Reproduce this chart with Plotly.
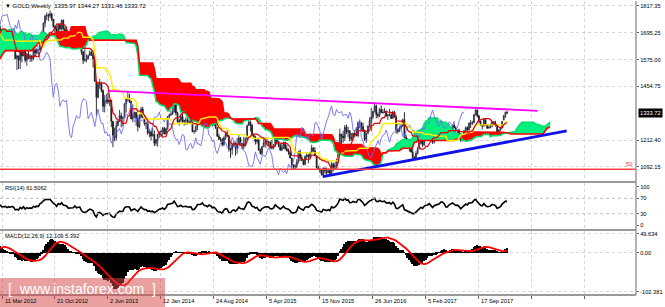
import numpy as np
import pandas as pd
import plotly.graph_objects as go

# ---------------- data: GOLD weekly bars (week start dates end at LAST_BAR) -------------
LAST_BAR = "2018-01-14"

opens = [
    # 2010 (from 5 Sep)
    1248,1246,1275,1297,1318,1346,1370,1327,1358,1394,1367,1352,1363,1406,1385,1377,1380,
    # 2011
    1421,1369,1361,1342,1340,1348,1360,1388,1410,1429,1421,1418,1427,1430,1474,1486,1505,1556,1491,1492,1510,1536,
    1542,1529,1539,1501,1486,1542,1601,1601,1625,1663,1743,1852,1829,1877,1856,1813,1658,1623,1635,1680,1642,1745,
    1753,1788,1725,1687,1746,1710,1598,1606,
    # 2012
    1565,1616,1640,1664,1727,1725,1724,1723,1776,1711,1698,1658,1662,1668,1640,1659,1642,1663,1645,1580,1591,1572,
    1622,1591,1626,1572,1598,1580,1590,1580,1618,1604,1620,1617,1670,1692,1739,1770,1774,1772,1780,1756,1724,1712,
    1677,1730,1714,1752,1712,1705,1696,1657,1657,
    # 2013
    1657,1662,1687,1659,1666,1667,1609,1572,1572,1577,1592,1607,1596,1579,1477,1405,1463,1468,1435,1364,1386,1393,
    1384,1391,1297,1234,1223,1277,1296,1322,1310,1313,1376,1396,1396,1386,1308,1325,1337,1310,1272,1315,1352,1314,
    1287,1287,1244,1250,1231,1238,1198,1213,
    # 2014
    1237,1248,1252,1265,1240,1262,1318,1324,1328,1339,1380,1334,1294,1302,1318,1294,1301,1302,1290,1294,1292,1250,
    1253,1274,1316,1316,1320,1339,1310,1307,1294,1311,1305,1280,1287,1268,1229,1216,1214,1192,1222,1238,1231,1171,
    1168,1190,1197,1175,1191,1222,1195,1195,
    # 2015
    1186,1216,1277,1293,1279,1234,1227,1205,1212,1167,1152,1182,1199,1206,1205,1203,1178,1177,1188,1225,1205,1190,
    1168,1180,1201,1173,1163,1157,1131,1098,1095,1094,1113,1159,1134,1121,1103,1138,1145,1137,1156,1177,1163,1141,
    1088,1081,1076,1056,1086,1075,1065,1076,
    # 2016
    1061,1104,1090,1097,1117,1158,1239,1230,1222,1270,1249,1254,1217,1221,1243,1235,1232,1290,1290,1272,1252,1214,
    1243,1275,1298,1316,1341,1366,1327,1322,1350,1336,1336,1341,1321,1327,1327,1310,1338,1316,1257,1251,1267,1276,
    1304,1225,1209,1178,1178,1159,1134,1133,
    # 2017
    1152,1173,1197,1209,1190,1221,1234,1238,1257,1226,1203,1229,1243,1249,1254,1285,1284,1268,1228,1228,1254,1267,
    1280,1267,1254,1256,1242,1212,1228,1254,1268,1258,1288,1286,1291,1325,1347,1320,1297,1280,1275,1304,1280,1266,
    1269,1275,1294,1288,1281,1248,1257,1267,1303,
    # 2018
    1322,1335.97,
]

highs = [
    1259,1283,1300,1321,1349,1387,1372,1362,1398,1424,1372,1379,1417,1432,1407,1392,1424,
    1424,1389,1374,1346,1357,1371,1390,1415,1440,1445,1436,1448,1439,1476,1487,1510,1577,1576,1523,1512,1541,1546,
    1550,1548,1560,1518,1545,1603,1610,1628,1681,1813,1879,1912,1881,1921,1858,1832,1677,1676,1695,1683,1748,1763,
    1802,1795,1727,1764,1755,1717,1645,1623,
    1626,1664,1672,1730,1764,1761,1740,1781,1791,1726,1712,1676,1696,1683,1677,1660,1666,1672,1648,1597,1593,1625,
    1640,1628,1628,1605,1625,1600,1595,1628,1626,1625,1622,1675,1695,1741,1777,1787,1782,1796,1786,1758,1728,1726,
    1737,1738,1754,1755,1722,1724,1699,1668,1693,
    1679,1695,1697,1684,1683,1675,1614,1620,1598,1597,1616,1616,1605,1587,1478,1470,1488,1475,1440,1415,1420,1424,
    1393,1393,1298,1268,1299,1300,1348,1336,1319,1378,1398,1434,1420,1389,1373,1340,1338,1327,1328,1362,1362,1325,
    1292,1294,1261,1254,1268,1256,1217,1240,
    1251,1256,1270,1272,1268,1320,1332,1345,1355,1383,1392,1340,1308,1331,1332,1304,1315,1316,1306,1305,1294,1256,
    1277,1321,1325,1332,1345,1340,1323,1312,1323,1321,1309,1296,1293,1270,1240,1225,1222,1229,1250,1256,1234,1179,
    1197,1208,1204,1222,1238,1226,1199,1227,
    1224,1282,1307,1300,1285,1240,1232,1220,1223,1174,1185,1219,1224,1224,1209,1206,1214,1194,1232,1232,1208,1197,
    1194,1205,1205,1190,1174,1166,1132,1104,1103,1126,1162,1170,1146,1125,1143,1157,1147,1159,1191,1179,1180,1142,
    1097,1088,1081,1088,1088,1088,1085,1082,
    1113,1110,1112,1128,1174,1263,1240,1254,1280,1282,1273,1256,1244,1245,1257,1271,1296,1304,1291,1290,1258,1246,
    1278,1315,1358,1343,1375,1372,1336,1357,1368,1352,1357,1346,1328,1352,1333,1345,1343,1324,1265,1274,1284,1308,
    1338,1237,1221,1195,1182,1180,1141,1163,
    1182,1207,1220,1219,1226,1245,1245,1264,1263,1227,1233,1260,1264,1274,1294,1296,1291,1270,1236,1264,1270,1283,
    1296,1275,1259,1263,1244,1235,1256,1274,1274,1292,1301,1299,1331,1357,1349,1326,1300,1281,1306,1306,1283,1284,
    1287,1297,1298,1299,1283,1260,1268,1298,1326,
    1340,1344.27,
]

lows = [
    1242,1242,1270,1286,1310,1340,1312,1317,1347,1360,1330,1346,1360,1377,1365,1368,1376,
    1353,1359,1334,1309,1330,1341,1356,1385,1405,1410,1381,1415,1407,1427,1452,1482,1503,1462,1478,1476,1508,1523,
    1524,1513,1496,1478,1480,1540,1578,1600,1613,1659,1743,1705,1792,1800,1770,1637,1535,1603,1630,1604,1625,1671,
    1726,1705,1662,1670,1701,1576,1590,1523,
    1565,1603,1640,1652,1717,1719,1711,1722,1688,1674,1633,1643,1651,1612,1636,1627,1634,1632,1576,1527,1532,1532,
    1562,1590,1562,1547,1576,1564,1565,1572,1585,1598,1598,1615,1641,1689,1720,1753,1747,1763,1748,1718,1697,1672,
    1673,1706,1705,1705,1684,1685,1636,1636,1626,
    1643,1654,1652,1652,1659,1596,1554,1565,1562,1576,1592,1591,1539,1475,1321,1400,1443,1427,1338,1337,1376,1375,
    1365,1270,1180,1207,1210,1275,1293,1270,1274,1311,1336,1385,1379,1305,1292,1311,1277,1251,1266,1310,1310,1277,
    1262,1236,1225,1211,1228,1185,1186,1182,
    1222,1226,1232,1238,1238,1260,1309,1322,1328,1336,1323,1290,1277,1292,1292,1277,1280,1283,1284,1284,1249,1240,
    1247,1257,1309,1309,1311,1291,1287,1280,1282,1302,1273,1276,1262,1228,1214,1205,1183,1186,1212,1225,1160,1131,
    1146,1180,1142,1150,1189,1186,1170,1171,
    1185,1215,1276,1251,1232,1216,1192,1196,1164,1147,1142,1181,1178,1192,1183,1172,1170,1170,1182,1196,1180,1163,
    1162,1172,1168,1162,1146,1130,1077,1078,1079,1085,1106,1118,1117,1098,1098,1124,1108,1125,1151,1159,1139,1085,
    1078,1063,1052,1046,1061,1046,1064,1056,
    1060,1071,1078,1095,1110,1157,1192,1200,1208,1239,1225,1206,1208,1211,1224,1230,1225,1265,1257,1248,1208,1199,
    1240,1268,1251,1306,1336,1310,1310,1316,1333,1331,1334,1317,1302,1319,1307,1308,1314,1241,1241,1251,1261,1272,
    1220,1203,1171,1160,1156,1123,1122,1127,
    1147,1172,1195,1180,1187,1216,1216,1232,1223,1195,1196,1228,1237,1241,1252,1275,1262,1226,1214,1226,1247,1260,
    1266,1245,1243,1236,1204,1205,1225,1250,1250,1256,1266,1280,1288,1324,1314,1289,1276,1260,1273,1277,1262,1264,
    1265,1270,1280,1272,1243,1236,1253,1266,1301,
    1312,1331.46,
]

closes = [
    1246,1275,1297,1318,1346,1370,1327,1358,1394,1367,1352,1363,1406,1385,1377,1380,1421,
    1369,1361,1342,1340,1348,1360,1388,1410,1429,1421,1418,1427,1430,1474,1486,1505,1556,1491,1492,1510,1536,1542,
    1529,1539,1501,1486,1542,1601,1601,1625,1663,1743,1852,1829,1877,1856,1813,1658,1623,1635,1680,1642,1745,1753,
    1788,1725,1687,1746,1710,1598,1606,1565,
    1616,1640,1664,1727,1725,1724,1723,1776,1711,1698,1658,1662,1668,1640,1659,1642,1663,1645,1580,1591,1572,1622,
    1591,1626,1572,1598,1580,1590,1580,1618,1604,1620,1617,1670,1692,1739,1770,1774,1772,1780,1756,1724,1712,1677,
    1730,1714,1752,1712,1705,1696,1657,1657,1657,
    1662,1687,1659,1666,1667,1609,1572,1572,1577,1592,1607,1596,1579,1477,1405,1463,1468,1435,1364,1386,1393,1384,
    1391,1297,1234,1223,1277,1296,1322,1310,1313,1376,1396,1396,1386,1308,1325,1337,1310,1272,1315,1352,1314,1287,
    1287,1244,1250,1231,1238,1198,1213,1237,
    1248,1252,1265,1240,1262,1318,1324,1328,1339,1380,1334,1294,1302,1318,1294,1301,1302,1290,1294,1292,1250,1253,
    1274,1316,1316,1320,1339,1310,1307,1294,1311,1305,1280,1287,1268,1229,1216,1214,1192,1222,1238,1231,1171,1168,
    1190,1197,1175,1191,1222,1195,1195,1186,
    1216,1277,1293,1279,1234,1227,1205,1212,1167,1152,1182,1199,1206,1205,1203,1178,1177,1188,1225,1205,1190,1168,
    1180,1201,1173,1163,1157,1131,1098,1095,1094,1113,1159,1134,1121,1103,1138,1145,1137,1156,1177,1163,1141,1088,
    1081,1076,1056,1086,1075,1065,1076,1061,
    1104,1090,1097,1117,1158,1239,1230,1222,1270,1249,1254,1217,1221,1243,1235,1232,1290,1290,1272,1252,1214,1243,
    1275,1298,1316,1341,1366,1327,1322,1350,1336,1336,1341,1321,1327,1327,1310,1338,1316,1257,1251,1267,1276,1304,
    1225,1209,1178,1178,1159,1134,1133,1152,
    1173,1197,1209,1190,1221,1234,1238,1257,1226,1203,1229,1243,1249,1254,1285,1284,1268,1228,1228,1254,1267,1280,
    1267,1254,1256,1242,1212,1228,1254,1268,1258,1288,1286,1291,1325,1347,1320,1297,1280,1275,1304,1280,1266,1269,
    1275,1294,1288,1281,1248,1257,1267,1296,1322,
    1338,1333.72,
]

# hand-drawn objects
magenta_dates = ["2013-06-05", "2018-05-23"]
magenta_prices = [1434, 1344]
blue_dates = ["2015-11-27", "2018-09-23"]
blue_prices = [1047, 1254]
fib50_price = 1080.5

tick_labels = ["11 Mar 2012", "21 Oct 2012", "2 Jun 2013", "12 Jan 2014", "24 Aug 2014",
               "5 Apr 2015", "15 Nov 2015", "26 Jun 2016", "5 Feb 2017", "17 Sep 2017"]
price_ticks = [1817.35, 1695.25, 1575.00, 1454.75, 1212.40, 1092.15]
rsi_ticks = [100, 70, 30, 0]
macd_ticks = [49.634, 0.0, -102.381]
title_text = "GOLD,Weekly  1335.97 1344.27 1331.46 1333.72"
rsi_text = "RSI(14) 61.5062"
macd_text = "MACD(12,26,9) 12.109 5.392"
last_price = 1333.72

# ---------------- indicators ----------------
N = len(closes)
dates = pd.date_range(end=LAST_BAR, periods=N, freq="7D")
fut = pd.date_range(start=dates[-1] + pd.Timedelta(days=7), periods=26, freq="7D")
ext = dates.append(fut)

H = pd.Series(highs, dtype=float)
L = pd.Series(lows, dtype=float)
C = pd.Series(closes, dtype=float)

tenkan = (H.rolling(9).max() + L.rolling(9).min()) / 2
kijun = (H.rolling(26).max() + L.rolling(26).min()) / 2
sa_raw = ((tenkan + kijun) / 2).values
sb_raw = ((H.rolling(52).max() + L.rolling(52).min()) / 2).values
spanA = np.concatenate([np.full(26, np.nan), sa_raw])
spanB = np.concatenate([np.full(26, np.nan), sb_raw])
ok = ~np.isnan(spanA) & ~np.isnan(spanB)
cx = ext[ok]
A = spanA[ok]
B = spanB[ok]
upper = np.maximum(A, B)
lower = np.minimum(A, B)

chikou_x = dates[:N - 26]
chikou_y = C.values[26:]

delta = C.diff()
gain = delta.clip(lower=0)
loss = -delta.clip(upper=0)
ag = gain.ewm(alpha=1 / 14, adjust=False).mean()
al = loss.ewm(alpha=1 / 14, adjust=False).mean()
rsi = 100 - 100 / (1 + ag / al)

ema12 = C.ewm(span=12, adjust=False).mean()
ema26 = C.ewm(span=26, adjust=False).mean()
macd = ema12 - ema26
signal = macd.rolling(9).mean()

# ---------------- figure ----------------
fig = go.Figure()

# cloud
fig.add_trace(go.Scatter(x=cx, y=B, mode="lines", line=dict(width=0), hoverinfo="skip"))
fig.add_trace(go.Scatter(x=cx, y=upper, mode="lines", line=dict(width=0), fill="tonexty",
                         fillcolor="#00f080", hoverinfo="skip"))
fig.add_trace(go.Scatter(x=cx, y=B, mode="lines", line=dict(width=0), hoverinfo="skip"))
fig.add_trace(go.Scatter(x=cx, y=lower, mode="lines", line=dict(width=0), fill="tonexty",
                         fillcolor="#ff0000", hoverinfo="skip"))
fig.add_trace(go.Scatter(x=cx, y=A, mode="lines", line=dict(color="#00e070", width=1.6)))
fig.add_trace(go.Scatter(x=cx, y=B, mode="lines", line=dict(color="#ff0000", width=1.6)))

# chikou, kijun, tenkan
fig.add_trace(go.Scatter(x=chikou_x, y=chikou_y, mode="lines", line=dict(color="#6c6cf4", width=0.9)))
fig.add_trace(go.Scatter(x=dates, y=kijun, mode="lines", line=dict(color="#ffee00", width=1.4)))
fig.add_trace(go.Scatter(x=dates, y=tenkan, mode="lines", line=dict(color="#e00000", width=1.2)))

# candles
fig.add_trace(go.Candlestick(
    x=dates, open=opens, high=highs, low=lows, close=closes,
    increasing=dict(line=dict(color="#2a2a4a", width=0.9), fillcolor="#8c8ca8"),
    decreasing=dict(line=dict(color="#1a1a1a", width=0.9), fillcolor="#1a1a1a"),
    whiskerwidth=0, hoverinfo="skip"))

# trend lines
fig.add_trace(go.Scatter(x=magenta_dates, y=magenta_prices, mode="lines",
                         line=dict(color="#ff00ff", width=1.8)))
fig.add_trace(go.Scatter(x=blue_dates, y=blue_prices, mode="lines",
                         line=dict(color="#1010e8", width=2.8)))

# RSI
fig.add_trace(go.Scatter(x=dates, y=rsi, mode="lines", line=dict(color="#000000", width=1.6),
                         xaxis="x", yaxis="y2"))
# MACD
fig.add_trace(go.Bar(x=dates, y=macd, marker=dict(color="#000000", line=dict(width=0)),
                     xaxis="x", yaxis="y3"))
fig.add_trace(go.Scatter(x=dates, y=signal, mode="lines", line=dict(color="#ff0000", width=1.8),
                         xaxis="x", yaxis="y3"))

# ---------------- layout ----------------
PLOT_TOP, PLOT_BOT = 1, 295        # pixel rows of the plotting area
PH = PLOT_BOT - PLOT_TOP


def py(p):  # pixel row -> paper y
    return (PLOT_BOT - p) / PH


t0 = pd.Timestamp("2012-03-11")
xr = [t0 - pd.Timedelta(days=7 * 1.208), t0 + pd.Timedelta(days=7 * 382.85)]
tick_dates = pd.date_range(start=t0, periods=12, freq="224D")

FONT = "Liberation Sans"
fs = 5.7
grid = "#d4d4d4"
frame = "#9a9a9a"

fig.update_layout(
    width=665, height=307, margin=dict(l=0, r=29, t=PLOT_TOP, b=307 - PLOT_BOT),
    paper_bgcolor="white", plot_bgcolor="white", showlegend=False, bargap=0,
    font=dict(family=FONT, size=fs, color="#000000"),
    xaxis=dict(type="date", range=xr, domain=[0, 1], anchor="y3", tickvals=tick_dates,
               showticklabels=False, ticks="outside", ticklen=3, tickcolor="#606060",
               showgrid=True, gridcolor=grid, griddash="dot", gridwidth=1,
               zeroline=False, showline=False, rangeslider=dict(visible=False)),
    yaxis=dict(domain=[py(181), 1], range=[1027.8, 1838.5], side="right", anchor="x",
               tickvals=price_ticks, ticktext=[f"{v:.2f}" for v in price_ticks],
               tickfont=dict(size=fs), ticks="outside", ticklen=2, tickcolor="#606060",
               showgrid=True, gridcolor=grid, griddash="dot", zeroline=False),
    yaxis2=dict(domain=[py(229), py(183)], range=[-9.6, 109.6], side="right", anchor="x",
                tickvals=rsi_ticks, ticktext=[str(v) for v in rsi_ticks],
                tickfont=dict(size=fs), ticks="outside", ticklen=2, tickcolor="#606060",
                showgrid=False, zeroline=False),
    yaxis3=dict(domain=[0, py(231)], range=[-111.1, 57.5], side="right", anchor="x",
                tickvals=macd_ticks, ticktext=["49.634", "0.00", "-102.381"],
                tickfont=dict(size=fs), ticks="outside", ticklen=2, tickcolor="#606060",
                showgrid=True, gridcolor=grid, griddash="dot", zeroline=False),
)

shapes = []
# RSI levels
for lv in (70, 30):
    shapes.append(dict(type="line", xref="paper", yref="y2", x0=0, x1=1, y0=lv, y1=lv,
                       line=dict(color="#c0c0c0", width=1, dash="dot")))
# fib 50 level
shapes.append(dict(type="line", xref="paper", yref="y", x0=0, x1=1, y0=fib50_price, y1=fib50_price,
                   line=dict(color="#ff4040", width=1.5)))
# frame / separators
for p in (182, 230):
    shapes.append(dict(type="line", xref="paper", yref="paper", x0=0, x1=1, y0=py(p), y1=py(p),
                       line=dict(color=frame, width=2)))
shapes.append(dict(type="line", xref="paper", yref="paper", x0=0, x1=1, y0=0, y1=0,
                   line=dict(color=frame, width=2)))
shapes.append(dict(type="line", xref="paper", yref="paper", x0=1, x1=1, y0=0, y1=1,
                   line=dict(color=frame, width=1.5)))
# watermark box
shapes.append(dict(type="rect", xref="paper", yref="paper", x0=0, x1=165 / 636, y0=py(307), y1=py(278),
                   fillcolor="rgba(214,72,72,0.52)", line=dict(width=0), layer="above"))
fig.update_layout(shapes=shapes)

ann = []
for d, t in zip(tick_dates[:len(tick_labels)], tick_labels):
    ann.append(dict(x=d, xref="x", y=py(300.5), yref="paper", text=t, showarrow=False,
                    xanchor="left", yanchor="middle", xshift=0.5, font=dict(size=fs, color="#000")))
ann.append(dict(x=0.004, xref="paper", y=py(6.5), yref="paper", text="\u25bc " + title_text,
                showarrow=False, xanchor="left", yanchor="middle", font=dict(size=6, color="#000")))
ann.append(dict(x=0.004, xref="paper", y=py(188), yref="paper", text=rsi_text,
                showarrow=False, xanchor="left", yanchor="middle", font=dict(size=fs, color="#000")))
ann.append(dict(x=0.004, xref="paper", y=py(236), yref="paper", text=macd_text,
                showarrow=False, xanchor="left", yanchor="middle", font=dict(size=fs, color="#000")))
ann.append(dict(x=1, xref="paper", y=last_price, yref="y", text=f"{last_price:.2f}", showarrow=False,
                xanchor="left", yanchor="middle", xshift=2, bgcolor="#000000", borderpad=1,
                font=dict(size=fs, color="#ffffff")))
ann.append(dict(x=0.997, xref="paper", y=fib50_price, yref="y", text="50", showarrow=False,
                xanchor="right", yanchor="bottom", font=dict(size=fs, color="#ff3030")))
ann.append(dict(x=82 / 636, xref="paper", y=py(289), yref="paper", text="[  www.instaforex.com  ]",
                showarrow=False, xanchor="center", yanchor="middle",
                font=dict(size=14, color="#ffffff", family=FONT)))
fig.update_layout(annotations=ann)

fig.write_html("out.html")
